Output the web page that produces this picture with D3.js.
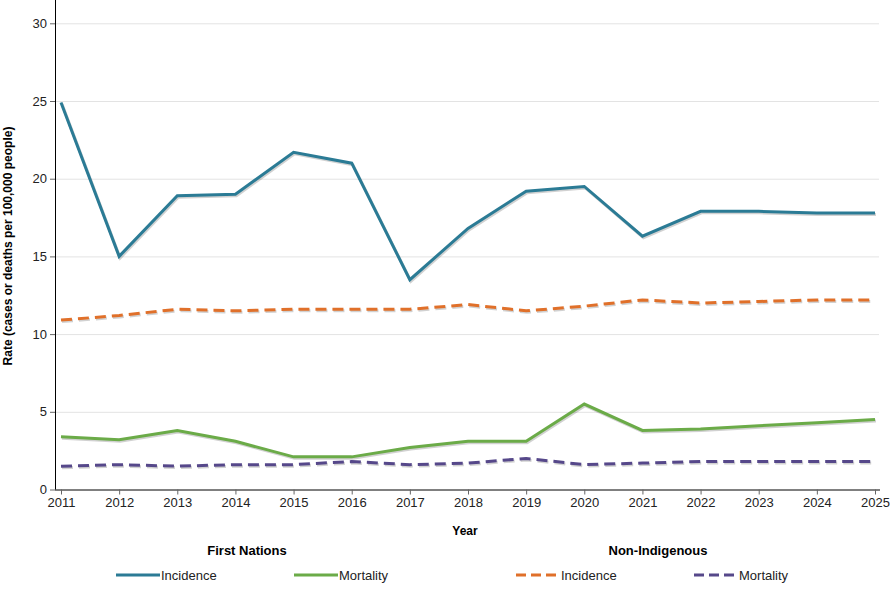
<!DOCTYPE html>
<html>
<head>
<meta charset="utf-8">
<script src="https://cdn.jsdelivr.net/npm/d3@7"></script>
<style>
  body { margin: 0; background: #fff; font-family: "Liberation Sans", Arial, sans-serif; }
  .grid line { stroke: #e3e3e3; }
  .grid path { display: none; }
  .axis text { font-size: 13px; fill: #222; }
</style>
</head>
<body>
<script>
'use strict';

// chart values
var years = [2011, 2012, 2013, 2014, 2015, 2016, 2017, 2018, 2019, 2020, 2021, 2022, 2023, 2024, 2025];
var fnIncidence = [24.9, 15.0, 18.9, 19.0, 21.7, 21.0, 13.5, 16.8, 19.2, 19.5, 16.3, 17.9, 17.9, 17.8, 17.8];
var fnMortality = [3.4, 3.2, 3.8, 3.1, 2.1, 2.1, 2.7, 3.1, 3.1, 5.5, 3.8, 3.9, 4.1, 4.3, 4.5];
var niIncidence = [10.9, 11.2, 11.6, 11.5, 11.6, 11.6, 11.6, 11.9, 11.5, 11.8, 12.2, 12.0, 12.1, 12.2, 12.2];
var niMortality = [1.5, 1.6, 1.5, 1.6, 1.6, 1.8, 1.6, 1.7, 2.0, 1.6, 1.7, 1.8, 1.8, 1.8, 1.8];
var yTicks = [0, 5, 10, 15, 20, 25, 30];

var series = [
    { group: "First Nations", name: "Incidence", values: fnIncidence, color: "#2b7b95", dash: null },
    { group: "First Nations", name: "Mortality", values: fnMortality, color: "#6bab48", dash: null },
    { group: "Non-Indigenous", name: "Incidence", values: niIncidence, color: "#e0702a", dash: "11,6" },
    { group: "Non-Indigenous", name: "Mortality", values: niMortality, color: "#56488a", dash: "11,6" }
];

var width = 890, height = 600;
var margin = { left: 55, right: 10, top: 0, bottom: 110 };

var svg = d3.select("body").append("svg")
    .attr("width", width)
    .attr("height", height);

var x = d3.scaleLinear().domain([2011, 2025]).range([61, 875]);
var y = d3.scaleLinear().domain([0, 31.5]).range([height - margin.bottom - 0.5, margin.top]);

// horizontal grid lines
svg.append("g")
    .attr("class", "grid")
    .attr("transform", "translate(" + margin.left + ",0)")
    .call(d3.axisRight(y).tickValues(yTicks.slice(1)).tickFormat("").tickSize(824));

// y axis
var yAxis = svg.append("g")
    .attr("class", "axis")
    .attr("transform", "translate(" + margin.left + ",0)")
    .call(d3.axisLeft(y).tickValues(yTicks).tickSize(5).tickPadding(3));
yAxis.select(".domain").attr("stroke", "#000").attr("d", "M0.5," + y(0) + "V0");
yAxis.selectAll(".tick line").attr("stroke", "#666");

// x axis
var xAxis = svg.append("g")
    .attr("class", "axis")
    .attr("transform", "translate(0," + y(0) + ")")
    .call(d3.axisBottom(x).tickValues(years).tickFormat(d3.format("d")).tickSize(5).tickPadding(3));
xAxis.select(".domain").attr("stroke", "#000").attr("d", "M" + margin.left + ",0.5H880");
xAxis.selectAll(".tick line").attr("stroke", "#666");

// axis titles
svg.append("text")
    .attr("transform", "translate(12," + 246 + ") rotate(-90)")
    .attr("text-anchor", "middle")
    .style("font-size", "12px")
    .style("font-weight", "bold")
    .text("Rate (cases or deaths per 100,000 people)");

svg.append("text")
    .attr("x", 465).attr("y", 535)
    .attr("text-anchor", "middle")
    .style("font-size", "12px")
    .style("font-weight", "bold")
    .text("Year");

var line = d3.line()
    .x(function(d, i) { return x(years[i]); })
    .y(function(d) { return y(d); });

// soft shadow under each line, like the original
series.forEach(function(s) {
    svg.append("path")
        .datum(s.values)
        .attr("fill", "none")
        .attr("stroke", "rgba(0,0,0,0.18)")
        .attr("stroke-width", 3)
        .attr("stroke-dasharray", s.dash)
        .attr("transform", "translate(1,1.5)")
        .attr("d", line);
});
series.forEach(function(s) {
    svg.append("path")
        .datum(s.values)
        .attr("fill", "none")
        .attr("stroke", s.color)
        .attr("stroke-width", 3)
        .attr("stroke-dasharray", s.dash)
        .attr("d", line);
});

// legend
var groupTitles = [
    { text: "First Nations", x: 247 },
    { text: "Non-Indigenous", x: 658 }
];
groupTitles.forEach(function(g) {
    svg.append("text")
        .attr("x", g.x).attr("y", 555)
        .attr("text-anchor", "middle")
        .style("font-size", "13px")
        .style("font-weight", "bold")
        .text(g.text);
});

var legendX = [116, 294, 516, 694];
series.forEach(function(s, i) {
    var lg = svg.append("g").attr("transform", "translate(" + legendX[i] + ",575)");
    lg.append("line")
        .attr("x1", 0).attr("x2", 44)
        .attr("stroke", s.color)
        .attr("stroke-width", 3)
        .attr("stroke-dasharray", s.dash ? "10,5" : null);
    lg.append("text")
        .attr("x", 45).attr("y", 4.5)
        .style("font-size", "13px")
        .attr("fill", "#222")
        .text(s.name);
});
</script>
</body>
</html>
